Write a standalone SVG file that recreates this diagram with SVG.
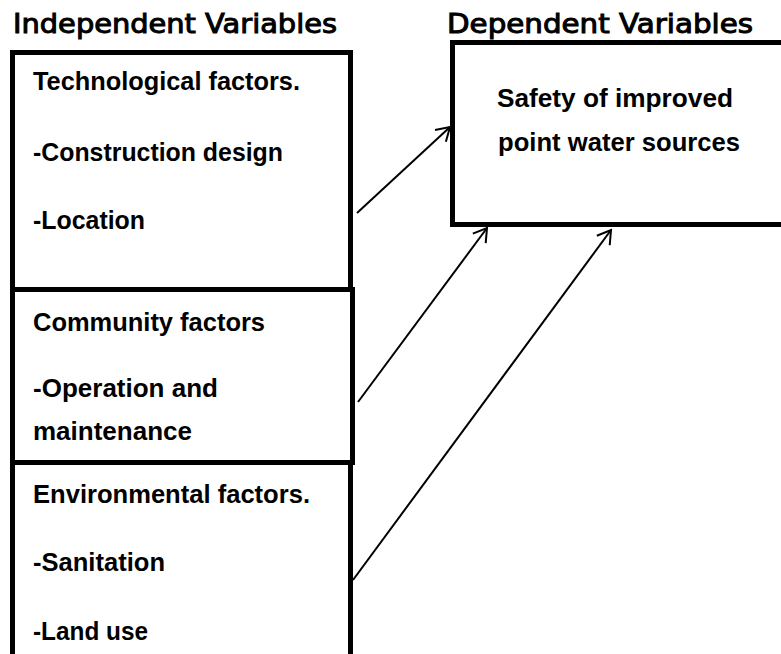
<svg xmlns="http://www.w3.org/2000/svg" width="781" height="654" viewBox="0 0 781 654">
<style>
.title{font-family:"DejaVu Sans",Verdana,sans-serif;font-size:26px;fill:#000;stroke:#000;stroke-width:1}
.lbl{font-family:"Liberation Sans",Arial,sans-serif;font-weight:bold;font-size:25px;fill:#000}
.box{fill:#fff;stroke:#000;stroke-width:5}
.conn{stroke:#000;stroke-width:2;fill:none;marker-end:url(#arr)}
</style>
<defs>
<marker id="arr" markerUnits="userSpaceOnUse" viewBox="-16 -10 20 20" refX="0" refY="0" markerWidth="20" markerHeight="20" orient="auto">
<path d="M-13,-8 L0,0 L-13,8" fill="none" stroke="#000" stroke-width="2"/>
</marker>
</defs>
<rect width="781" height="654" fill="#fff"/>
<text class="title" x="13" y="33" textLength="324" lengthAdjust="spacingAndGlyphs">Independent Variables</text>
<text class="title" x="447" y="33" textLength="306" lengthAdjust="spacingAndGlyphs">Dependent Variables</text>
<g id="tech">
<rect class="box" x="12.5" y="52.5" width="338" height="237"/>
<text class="lbl" x="33" y="90" textLength="267" lengthAdjust="spacingAndGlyphs">Technological factors.</text>
<text class="lbl" x="33" y="161" textLength="250" lengthAdjust="spacingAndGlyphs">-Construction design</text>
<text class="lbl" x="33" y="229" textLength="112" lengthAdjust="spacingAndGlyphs">-Location</text>
</g>
<g id="community">
<rect class="box" x="12.5" y="289.5" width="340" height="173"/>
<text class="lbl" x="33" y="331" textLength="232" lengthAdjust="spacingAndGlyphs">Community factors</text>
<text class="lbl" x="33" y="397" textLength="185" lengthAdjust="spacingAndGlyphs">-Operation and</text>
<text class="lbl" x="33" y="440" textLength="159" lengthAdjust="spacingAndGlyphs">maintenance</text>
</g>
<g id="environment">
<rect class="box" x="12.5" y="462.5" width="338" height="220"/>
<text class="lbl" x="33" y="503" textLength="277" lengthAdjust="spacingAndGlyphs">Environmental factors.</text>
<text class="lbl" x="33" y="571" textLength="132" lengthAdjust="spacingAndGlyphs">-Sanitation</text>
<text class="lbl" x="33" y="640" textLength="115" lengthAdjust="spacingAndGlyphs">-Land use</text>
</g>
<g id="safety">
<rect class="box" x="452.5" y="42.5" width="340" height="182"/>
<text class="lbl" x="497" y="107" textLength="236" lengthAdjust="spacingAndGlyphs">Safety of improved</text>
<text class="lbl" x="498" y="151" textLength="242" lengthAdjust="spacingAndGlyphs">point water sources</text>
</g>
<g id="connectors">
<line class="conn" x1="357" y1="213" x2="450" y2="127"/>
<line class="conn" x1="358" y1="402" x2="487" y2="228"/>
<line class="conn" x1="353" y1="580" x2="611" y2="230"/>
</g>
</svg>
